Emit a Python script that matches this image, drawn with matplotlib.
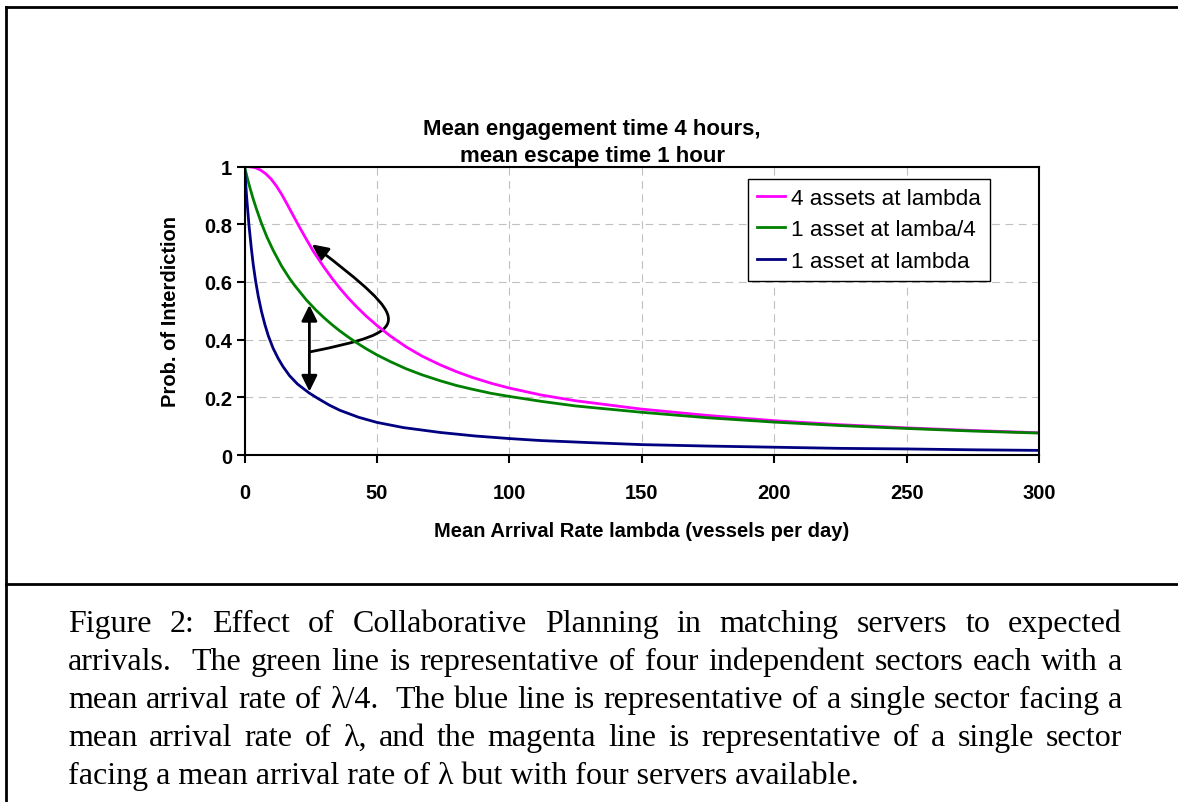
import matplotlib

matplotlib.use("Agg")
import matplotlib.pyplot as plt
from matplotlib.lines import Line2D
from matplotlib.patches import FancyArrowPatch
from matplotlib.path import Path

# values
lam_four = [0, 2, 4, 6, 8, 10, 12, 14, 16, 18.4, 21, 23.4, 26, 29.7, 33, 36, 39, 42.3,
            46, 50, 55, 61, 67, 74, 80, 86, 93, 100, 112, 125, 150, 175, 200, 225, 250,
            275, 300]
p_four = [1.0, 0.999, 0.996, 0.988, 0.975, 0.957, 0.933, 0.904, 0.871, 0.83, 0.786, 0.747,
          0.706, 0.655, 0.613, 0.578, 0.546, 0.514, 0.481, 0.449, 0.413, 0.375, 0.343,
          0.312, 0.289, 0.269, 0.249, 0.232, 0.208, 0.188, 0.159, 0.137, 0.119, 0.105,
          0.094, 0.085, 0.077]

lam_quarter = [0, 1, 2, 3.2, 4.5, 6.4, 8.5, 10.8, 14, 17, 19, 23.4, 27, 30, 33, 36, 39,
               42, 46, 50, 55, 61, 67, 74, 80, 86, 93, 100, 112, 125, 150, 175, 200, 225,
               250, 275, 300]
p_quarter = [1.0, 0.962, 0.928, 0.89, 0.853, 0.803, 0.755, 0.71, 0.655, 0.612, 0.587,
             0.537, 0.502, 0.476, 0.452, 0.43, 0.41, 0.391, 0.368, 0.347, 0.324, 0.299,
             0.278, 0.257, 0.241, 0.228, 0.214, 0.203, 0.186, 0.17, 0.148, 0.129, 0.114,
             0.102, 0.092, 0.083, 0.076]

lam_one = [0, 0.8, 1.7, 2.6, 3.3, 4.2, 5.2, 6.4, 7.7, 9, 10.8, 12.7, 14.5, 17, 20, 24.4,
           27.9, 32, 36, 43, 50, 60, 74, 87, 100, 112, 130, 150, 175, 200, 225, 250, 275,
           300]
p_one = [1.0, 0.895, 0.795, 0.715, 0.66, 0.603, 0.55, 0.498, 0.452, 0.413, 0.37, 0.335,
         0.307, 0.275, 0.246, 0.215, 0.195, 0.173, 0.155, 0.131, 0.113, 0.095, 0.078,
         0.066, 0.057, 0.050, 0.043, 0.036, 0.031, 0.027, 0.023, 0.021, 0.018, 0.016]

series_labels = ["4 assets at lambda", "1 asset at lamba/4", "1 asset at lambda"]
series_colors = ["#ff00ff", "#008000", "#000080"]

x_ticks = [0, 50, 100, 150, 200, 250, 300]
y_ticks = [0, 0.2, 0.4, 0.6, 0.8, 1.0]
y_tick_labels = ["0", "0.2", "0.4", "0.6", "0.8", "1"]

title = "Mean engagement time 4 hours,\nmean escape time 1 hour"
x_label = "Mean Arrival Rate lambda (vessels per day)"
y_label = "Prob. of Interdiction"

caption_lines = [
    "Figure 2: Effect of Collaborative Planning in matching servers to expected",
    "arrivals.  The green line is representative of four independent sectors each with a",
    "mean arrival rate of \u03bb/4.  The blue line is representative of a single sector facing a",
    "mean arrival rate of \u03bb, and the magenta line is representative of a single sector",
    "facing a mean arrival rate of \u03bb but with four servers available.",
]

# annotation arrows (data coordinates)
double_arrow = ((24.5, 0.22), (24.5, 0.52))
curve_arrow = [(24.5, 0.357), (64, 0.43), (64, 0.46), (25.5, 0.73)]

W, H, DPI = 1178, 803, 100
plt.rcParams["font.family"] = ["Liberation Sans", "DejaVu Sans"]


def fx(px):
    return px / W


def fy(py):
    return 1 - py / H


fig = plt.figure(figsize=(W / DPI, H / DPI), dpi=DPI)
ax = fig.add_axes([fx(244.5), fy(456), fx(1039) - fx(244.5), fy(167.5) - fy(456)])

for lam, p, label, color in zip((lam_four, lam_quarter, lam_one), (p_four, p_quarter, p_one),
                                series_labels, series_colors):
    ax.plot(lam, p, color=color, lw=2, label=label, solid_joinstyle="round")

ax.set_xlim(0, 300)
ax.set_ylim(0, 1)
ax.set_xticks(x_ticks, [str(v) for v in x_ticks], fontweight="bold")
ax.set_yticks(y_ticks, y_tick_labels, fontweight="bold")
ax.tick_params(axis="both", direction="out", length=6, width=1.5, labelsize=14.5)
ax.tick_params(axis="x", pad=14)
ax.tick_params(axis="y", pad=3)
ax.grid(True, color="#c0c0c0", lw=0.8, linestyle=(0, (7, 5)))
ax.set_axisbelow(True)
for spine in ax.spines.values():
    spine.set_linewidth(1.5)
    spine.set_color("black")

ax.annotate("", xy=double_arrow[1], xytext=double_arrow[0],
            arrowprops=dict(arrowstyle="<|-|>,head_length=0.95,head_width=0.47",
                            color="black", lw=2, shrinkA=0, shrinkB=0))
curve = FancyArrowPatch(path=Path(curve_arrow, [Path.MOVETO, Path.CURVE4, Path.CURVE4, Path.CURVE4]),
                        arrowstyle="-|>,head_length=0.95,head_width=0.47", color="black",
                        lw=2, mutation_scale=10, transform=ax.transData)
ax.add_patch(curve)

legend = ax.legend(loc="upper left", bbox_to_anchor=(fx(748), fy(180)),
                   bbox_transform=fig.transFigure, borderaxespad=0, fancybox=False,
                   edgecolor="black", framealpha=1, fontsize=16.2, handlelength=1.25,
                   handletextpad=0.25, labelspacing=0.46, borderpad=0.4)
legend.get_frame().set_linewidth(1)

fig.text(fx(592), fy(143), title, ha="center", va="center", fontsize=16,
         fontweight="bold", linespacing=1.4)
fig.text(fx(642), fy(532), x_label, ha="center", va="center", fontsize=14.5,
         fontweight="bold")
fig.text(fx(171), fy(312), y_label, ha="center", va="center", rotation=90,
         fontsize=14.5, fontweight="bold")

# page frame
frame_kw = dict(color="black", lw=2, transform=fig.transFigure)
fig.add_artist(Line2D([fx(6), 1], [fy(8), fy(8)], **frame_kw))
fig.add_artist(Line2D([fx(6), fx(6)], [fy(8), 0], **frame_kw))
fig.add_artist(Line2D([fx(6), 1], [fy(584.5), fy(584.5)], **frame_kw))

# justified caption: every space character gets the same stretch
serif = dict(family=["Liberation Serif", "DejaVu Serif"], size=23)
left, right = 68, 1122
baselines = [632, 670, 708, 746, 784]
renderer = fig.canvas.get_renderer()


def text_width(s):
    t = fig.text(0, 0, s, **serif)
    w = t.get_window_extent(renderer).width
    t.remove()
    return w


for i, (line, base) in enumerate(zip(caption_lines, baselines)):
    if i == len(caption_lines) - 1:
        fig.text(fx(left), fy(base), line, va="baseline", ha="left", **serif)
        continue
    tokens = line.split(" ")
    words, gaps = [], []
    for tok in tokens:
        if tok == "":
            gaps[-1] += 1
        else:
            words.append(tok)
            gaps.append(1)
    gaps = gaps[:-1]
    texts = [fig.text(0, fy(base), w, va="baseline", ha="left", **serif) for w in words]
    widths = [t.get_window_extent(renderer).width for t in texts]
    unit = (right - left - sum(widths)) / sum(gaps)
    x = left
    for j, (t, w) in enumerate(zip(texts, widths)):
        t.set_x(fx(x))
        if j < len(gaps):
            x += w + gaps[j] * unit

fig.savefig("out.png", dpi=DPI)
